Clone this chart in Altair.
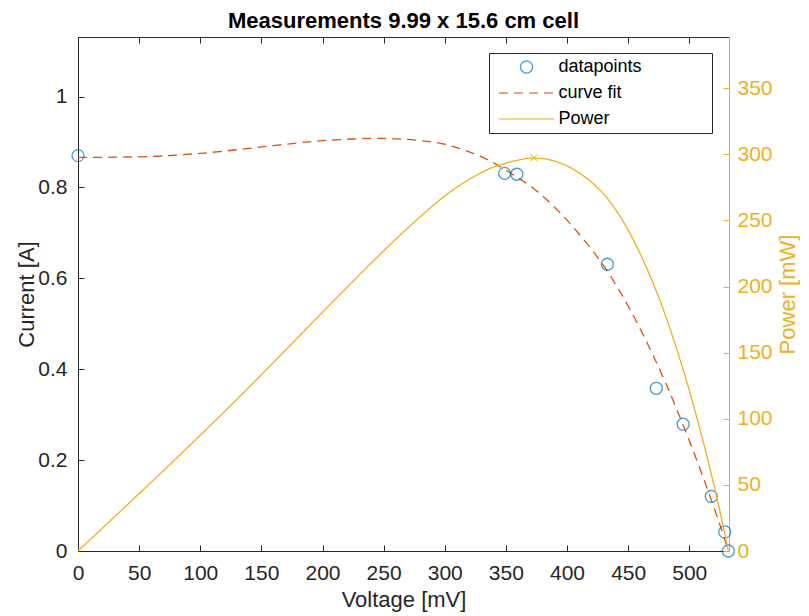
import altair as alt
import pandas as pd

# ---------------- data ----------------
meas_v = [0, 349, 359, 433, 473, 495, 518, 529, 532]
meas_i = [0.870, 0.831, 0.829, 0.631, 0.358, 0.279, 0.120, 0.042, 0.0]

fit_v = [0, 20, 40, 60, 80, 100, 120, 140, 160, 180, 200, 220, 240, 260, 280,
         300, 320, 340, 350, 360, 370, 380, 390, 400, 410, 420, 433, 440, 450,
         460, 470, 480, 490, 500, 510, 520, 527, 532]
fit_i = [0.866, 0.866, 0.867, 0.868, 0.871, 0.875, 0.880, 0.886, 0.892, 0.898,
         0.903, 0.906, 0.908, 0.907, 0.903, 0.895, 0.878, 0.854, 0.838, 0.821,
         0.803, 0.781, 0.756, 0.728, 0.697, 0.664, 0.616, 0.586, 0.539, 0.488,
         0.433, 0.374, 0.310, 0.243, 0.172, 0.097, 0.042, 0.0]
power_mw = [0, 17.3, 34.7, 52.1, 69.7, 87.5, 105.6, 124.0, 142.7, 161.6,
            180.6, 199.3, 217.9, 235.8, 252.8, 268.5, 281.0, 290.4, 293.3, 295.6,
            297.1, 296.8, 294.8, 291.2, 285.8, 278.9, 266.7, 257.8, 242.6,
            224.5, 203.5, 179.5, 151.9, 121.5, 87.7, 50.4, 22.1, 0]
mpp_v = [373]
mpp_p = [297.4]

series = ["datapoints", "curve fit", "Power"]
colors = ["#0072BD", "#D95319", "#EDB120"]

x_ticks = [0, 50, 100, 150, 200, 250, 300, 350, 400, 450, 500]
i_ticks = [0, 0.2, 0.4, 0.6, 0.8, 1]
p_ticks = [0, 50, 100, 150, 200, 250, 300, 350]

x_dom = [0, 532.5]
i_dom = [0, 1.131]
p_dom = [0, 388.7]

# ---------------- styling ----------------
FONT = "Liberation Sans"
AX = "#262626"
YEL = "#EDB120"
PAD = "\u00a0" * 13 + "\u200b"

circle_path = "M -1.2,0 A 1.2,1.2 0 1,0 1.2,0 A 1.2,1.2 0 1,0 -1.2,0 Z"
line_path = "M -5.5,0 L 5.5,0"
x_path = "M -1,-1 L 1,1 M -1,1 L 1,-1"

df_meas = pd.DataFrame({"V": meas_v, "I": meas_i, "s": "datapoints"})
df_fit = pd.DataFrame({"V": fit_v, "I": fit_i, "s": "curve fit"})
df_pow = pd.DataFrame({"V": fit_v, "P": power_mw, "s": "Power"})
df_mpp = pd.DataFrame({"V": mpp_v, "P": mpp_p})

xs = alt.Scale(domain=x_dom, nice=False, zero=False)
iscale = alt.Scale(domain=i_dom, nice=False, zero=False)
pscale = alt.Scale(domain=p_dom, nice=False, zero=False)

color_scale = alt.Scale(domain=series, range=colors)
shape_scale = alt.Scale(domain=series, range=[circle_path, line_path, line_path])
dash_scale = alt.Scale(domain=series, range=[[1, 0], [9, 6], [1, 0]])

legend = alt.Legend(
    title=None, orient="none", legendX=411, legendY=16,
    labelFont=FONT, labelFontSize=18, labelColor="#000000",
    labelExpr="datum.label + '" + PAD + "'", labelLimit=500,
    padding=5, rowPadding=8, symbolOffset=23.5, labelOffset=23,
    symbolSize=100, symbolStrokeWidth=1.3,
    strokeColor=AX, fillColor="#ffffff",
)

tick_axis_common = dict(domain=False, offset=-6, tickSize=6, tickWidth=1,
                        labelFont=FONT, labelFontSize=21, labelFlush=False,
                        grid=False)

# datapoints: bottom ticks/labels, left ticks/labels
points = alt.Chart(df_meas).mark_point(filled=False, size=100, strokeWidth=1.3).encode(
    x=alt.X("V:Q", scale=xs, axis=alt.Axis(
        orient="bottom", values=x_ticks, title="Voltage [mV]", tickColor=AX,
        labelColor=AX, labelPadding=11, titleFont=FONT, titleFontSize=22,
        titleFontWeight="normal", titleColor=AX, titlePadding=6,
        **tick_axis_common)),
    y=alt.Y("I:Q", scale=iscale, axis=alt.Axis(
        orient="left", values=i_ticks, format="~g", title="Current [A]",
        tickColor=AX, labelColor=AX, labelPadding=11, titleFont=FONT,
        titleFontSize=22, titleFontWeight="normal", titleColor=AX,
        titlePadding=-1, **tick_axis_common)),
    color=alt.Color("s:N", scale=color_scale, legend=legend),
    shape=alt.Shape("s:N", scale=shape_scale, legend=legend),
)

# curve fit: bottom and left frame lines
curve = alt.Chart(df_fit).mark_line(strokeWidth=1.3, interpolate="monotone").encode(
    x=alt.X("V:Q", scale=xs, axis=alt.Axis(
        orient="bottom", domain=True, domainColor=AX, domainWidth=1,
        ticks=False, labels=False, title="", grid=False)),
    y=alt.Y("I:Q", scale=iscale, axis=alt.Axis(
        orient="left", domain=True, domainColor=AX, domainWidth=1,
        ticks=False, labels=False, title="", grid=False)),
    color=alt.Color("s:N", scale=color_scale, legend=legend),
    strokeDash=alt.StrokeDash("s:N", scale=dash_scale, legend=legend),
)

# power: top ticks, right ticks/labels (yellow)
power = alt.Chart(df_pow).mark_line(strokeWidth=1.3, interpolate="monotone").encode(
    x=alt.X("V:Q", scale=xs, axis=alt.Axis(
        orient="top", values=x_ticks, labels=False, title="", tickColor=AX,
        **tick_axis_common)),
    y=alt.Y("P:Q", scale=pscale, axis=alt.Axis(
        orient="right", values=p_ticks, title="Power [mW]", tickColor=YEL,
        labelColor=YEL, labelPadding=8, titleFont=FONT, titleFontSize=22,
        titleFontWeight="normal", titleColor=YEL, titlePadding=27,
        titleAngle=270, **tick_axis_common)),
    color=alt.Color("s:N", scale=color_scale, legend=legend),
    strokeDash=alt.StrokeDash("s:N", scale=dash_scale, legend=legend),
)

# maximum power point marker: top and right frame lines
mpp = alt.Chart(df_mpp).mark_point(shape=x_path, filled=False, size=50,
                                   strokeWidth=1.2, color=YEL).encode(
    x=alt.X("V:Q", scale=xs, axis=alt.Axis(
        orient="top", domain=True, domainColor=AX, domainWidth=1,
        ticks=False, labels=False, title="", grid=False)),
    y=alt.Y("P:Q", scale=pscale, axis=alt.Axis(
        orient="right", domain=True, domainColor=YEL, domainWidth=1,
        ticks=False, labels=False, title="", grid=False)),
)

chart = alt.layer(curve, points, power, mpp).resolve_scale(
    y="independent"
).resolve_axis(
    x="independent", y="independent"
).properties(
    width=651, height=514,
    title=alt.TitleParams("Measurements 9.99 x 15.6 cm cell", font=FONT,
                          fontSize=22, fontWeight="bold", color="#000000",
                          anchor="middle", frame="group", offset=4),
    autosize=alt.AutoSizeParams(type="none"),
    padding={"left": 70, "top": 29, "right": 72, "bottom": 63},
).configure_view(stroke="transparent").configure(background="#ffffff")

chart.save("out.html", embed_options={"renderer": "svg", "actions": False})
